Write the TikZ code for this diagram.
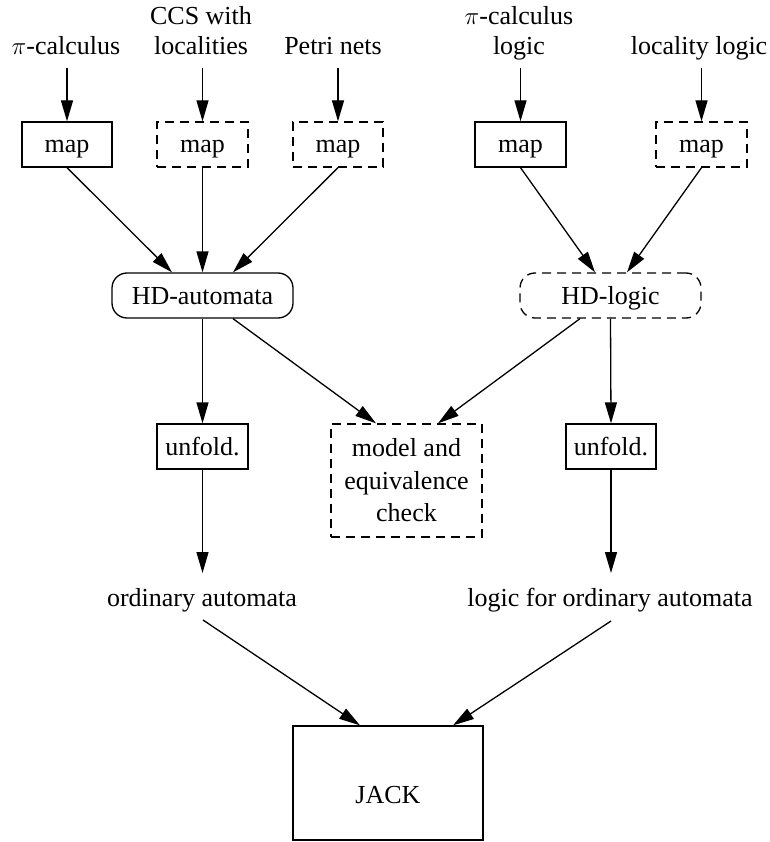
\documentclass[tikz,border=0pt]{standalone}
\usepackage{fontspec}
\setmainfont{Liberation Serif}
\usetikzlibrary{arrows.meta,calc}
\begin{document}
\begin{tikzpicture}[x=1pt,y=-1pt,
  every node/.style={font=\fontsize{26}{30}\selectfont},
  arr/.style={-{Triangle[length=21pt,width=12pt]}, line width=1.3pt},
  box/.style={draw, line width=1.3pt, inner sep=0pt},
  sl/.style={text height=17pt, text depth=0pt},
  dbox/.style={box, dash pattern=on 9pt off 6pt},
  lbl/.style={inner sep=0pt, text depth=0pt, align=center, anchor=south},
]
\useasboundingbox (0,0) rectangle (769,842);

% source labels
\node[lbl] (pc) at (66,55) {$\pi$-calculus};
\node[lbl] (ccs) at (201,55) {CCS with\\localities};
\node[lbl] (pn) at (333,55) {Petri nets};
\node[lbl] (pl) at (519,55) {$\pi$-calculus\\logic};
\node[lbl] (ll) at (699,55) {locality logic};

% map boxes
\node[box,sl,minimum width=90pt,minimum height=45pt] (m1) at (67,144.5) {map};
\node[dbox,sl,minimum width=91pt,minimum height=45pt] (m2) at (202.5,144.5) {map};
\node[dbox,sl,minimum width=90pt,minimum height=45pt] (m3) at (338,144.5) {map};
\node[box,sl,minimum width=91pt,minimum height=45pt] (m4) at (520.5,144.5) {map};
\node[dbox,sl,minimum width=91pt,minimum height=45pt] (m5) at (701.5,144.5) {map};

% HD nodes
\node[box,sl,rounded corners=15pt,minimum width=181pt,minimum height=45pt] (hda) at (202.5,295.5) {HD-automata};
\node[dbox,sl,rounded corners=15pt,minimum width=181pt,minimum height=45pt] (hdl) at (610.5,295.5) {HD-logic};

% unfold and check
\node[box,sl,minimum width=91pt,minimum height=45pt] (u1) at (202.5,446.5) {unfold.};
\node[dbox,align=center,minimum width=151pt,minimum height=113pt,font=\fontsize{26}{32.5}\selectfont] (mc) at (406.5,480.5) {model and\\equivalence\\check};
\node[box,sl,minimum width=90pt,minimum height=45pt] (u2) at (611,446.5) {unfold.};

% ordinary automata
\node[lbl] (oa) at (202,607) {ordinary automata};
\node[lbl] (lo) at (610,607) {logic for ordinary automata};

% JACK
\node[box,text height=40pt,text depth=0pt,minimum width=190pt,minimum height=114pt] (jack) at (388,783) {JACK};

% arrows from labels to maps
\draw[arr] ($(pc.south -| m1.north)+(0,13)$) -- (m1.north);
\draw[arr] ($(ccs.south -| m2.north)+(0,13)$) -- (m2.north);
\draw[arr] ($(pn.south -| m3.north)+(0,13)$) -- (m3.north);
\draw[arr] ($(pl.south -| m4.north)+(0,13)$) -- (m4.north);
\draw[arr] ($(ll.south -| m5.north)+(0,13)$) -- (m5.north);

% maps to HD
\draw[arr] (m1.south) -- ($(hda.north)+(-30.5,0)$);
\draw[arr] (m2.south) -- (hda.north);
\draw[arr] (m3.south) -- ($(hda.north)+(30.5,0)$);
\draw[arr] (m4.south) -- ($(hdl.north)+(-15.5,0)$);
\draw[arr] (m5.south) -- ($(hdl.north)+(16.5,0)$);

% HD to unfold / check
\draw[arr] (hda.south) -- (u1.north);
\draw[arr] ($(hda.south)+(30.5,0)$) -- ($(mc.north)+(-30.5,0)$);
\draw[arr] ($(hdl.south)+(-30.5,0)$) -- ($(mc.north)+(31.5,0)$);
\draw[arr] (hdl.south) -- (u2.north);

% unfold to ordinary
\draw[arr] (u1.south) -- ($(oa.south -| u1.south)+(0,-34)$);
\draw[arr] (u2.south) -- ($(lo.south -| u2.south)+(0,-34)$);

% to JACK
\draw[arr] ($(oa.south)+(1,13)$) -- ($(jack.north)+(-28,0)$);
\draw[arr] ($(lo.south)+(1,14)$) -- ($(jack.north)+(65,0)$);
\end{tikzpicture}
\end{document}
